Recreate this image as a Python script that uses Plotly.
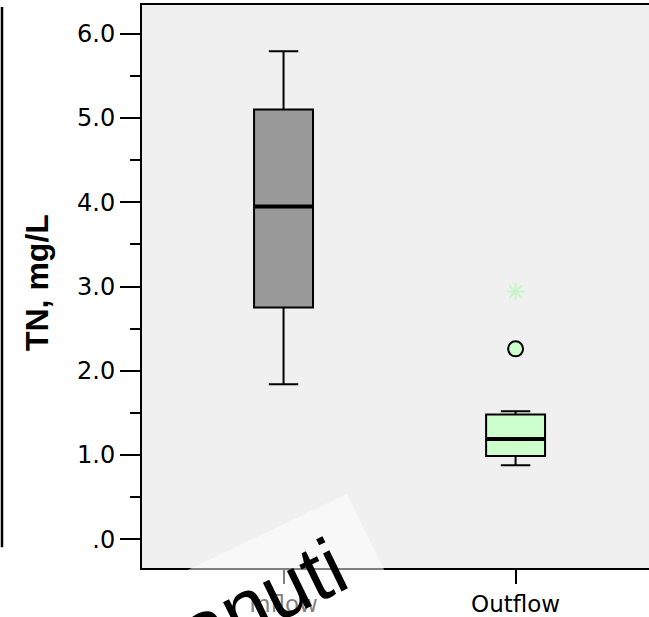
import plotly.graph_objects as go

# ---- data ----
categories = ["Inflow", "Outflow"]
lower_whisker = [1.84, 0.88]
q1 = [2.75, 0.99]
median = [3.95, 1.19]
q3 = [5.10, 1.48]
upper_whisker = [5.79, 1.52]
outlier_circle = [None, 2.26]   # mild outliers (o)
outlier_star = [None, 2.94]     # extreme outliers (*)
y_tick_values = [0, 1, 2, 3, 4, 5, 6]
y_tick_labels = [".0", "1.0", "2.0", "3.0", "4.0", "5.0", "6.0"]
y_minor_values = [0.5, 1.5, 2.5, 3.5, 4.5, 5.5]

# ---- style ----
fills = ["#999999", "#ccffcc"]
STAR_COLOR = "#c8f5c8"
BOX_W = 0.254
W, H = 649, 617
L, R, T, B = 142, 0, 5, 43

fig = go.Figure()
xs = list(range(len(categories)))
for i, cat in enumerate(categories):
    fig.add_trace(go.Box(
        x=[xs[i]], q1=[q1[i]], median=[median[i]], q3=[q3[i]],
        lowerfence=[lower_whisker[i]], upperfence=[upper_whisker[i]],
        width=BOX_W, whiskerwidth=0.5, fillcolor=fills[i],
        line=dict(color="black", width=2), boxpoints=False,
        hoverinfo="skip", showlegend=False, name=cat))
    # thick median line
    fig.add_trace(go.Scatter(
        x=[xs[i] - BOX_W / 2, xs[i] + BOX_W / 2], y=[median[i], median[i]],
        mode="lines", line=dict(color="black", width=4),
        hoverinfo="skip", showlegend=False))
    if outlier_circle[i] is not None:
        fig.add_trace(go.Scatter(
            x=[xs[i]], y=[outlier_circle[i]], mode="markers",
            marker=dict(symbol="circle", size=15, color=fills[i],
                        line=dict(color="black", width=2)),
            hoverinfo="skip", showlegend=False))
    if outlier_star[i] is not None:
        fig.add_trace(go.Scatter(
            x=[xs[i]], y=[outlier_star[i]], mode="markers",
            marker=dict(symbol="asterisk-open", size=15, color=STAR_COLOR,
                        line=dict(color=STAR_COLOR, width=2)),
            hoverinfo="skip", showlegend=False))

fig.update_layout(
    width=W, height=H,
    margin=dict(l=L, r=R, t=T, b=B, pad=0),
    paper_bgcolor="white", plot_bgcolor="#f0f0f0",
    xaxis=dict(range=[-0.61, 1.575], tickmode="array", tickvals=xs,
               ticktext=categories, ticks="outside", ticklen=14, tickwidth=2,
               tickcolor="black", showgrid=False, zeroline=False,
               showline=True, linecolor="black", linewidth=2, mirror=True,
               tickfont=dict(family="DejaVu Sans", size=23, color="black")),
    yaxis=dict(range=[-0.34, 6.34], tickmode="array", tickvals=y_tick_values,
               ticktext=y_tick_labels, ticks="outside", ticklen=20, tickwidth=2,
               tickcolor="black", showgrid=False, zeroline=False,
               showline=True, linecolor="black", linewidth=2,
               tickfont=dict(family="DejaVu Sans", size=24, color="black"),
               minor=dict(tickmode="array", tickvals=y_minor_values, ticks="outside",
                          ticklen=10, tickwidth=2, tickcolor="black", showgrid=False)),
)

def px_x(p):
    return (p - L) / (W - L - R)

def px_y(p):
    return (H - B - p) / (H - T - B)

# y axis title
fig.add_annotation(text="<b>TN, mg/L</b>", xref="paper", yref="paper",
                   x=px_x(37), y=px_y(286), textangle=-90, showarrow=False,
                   xanchor="center", yanchor="middle",
                   font=dict(family="Liberation Sans", size=32, color="black"))

# left frame line fragment
fig.add_shape(type="line", xref="paper", yref="paper",
              x0=px_x(2), x1=px_x(2), y0=px_y(553), y1=px_y(7),
              line=dict(color="black", width=2.5))

# watermark: translucent white rotated rectangle + text
ax, ay = 347, 499
pts = [(ax, ay), (ax - 360, ay + 174), (ax - 360 + 87, ay + 174 + 180), (ax + 87, ay + 180)]
path = "M " + " L ".join(f"{px_x(x)},{px_y(y)}" for x, y in pts) + " Z"
fig.add_shape(type="path", path=path, xref="paper", yref="paper",
              fillcolor="rgba(255,255,255,0.5)", line=dict(width=0), layer="above")
fig.add_annotation(text="anuti", xref="paper", yref="paper",
                   x=px_x(262), y=px_y(606), textangle=-26, showarrow=False,
                   xanchor="center", yanchor="middle",
                   font=dict(family="Liberation Sans", size=80, color="black"))

fig.write_html("out.html")
